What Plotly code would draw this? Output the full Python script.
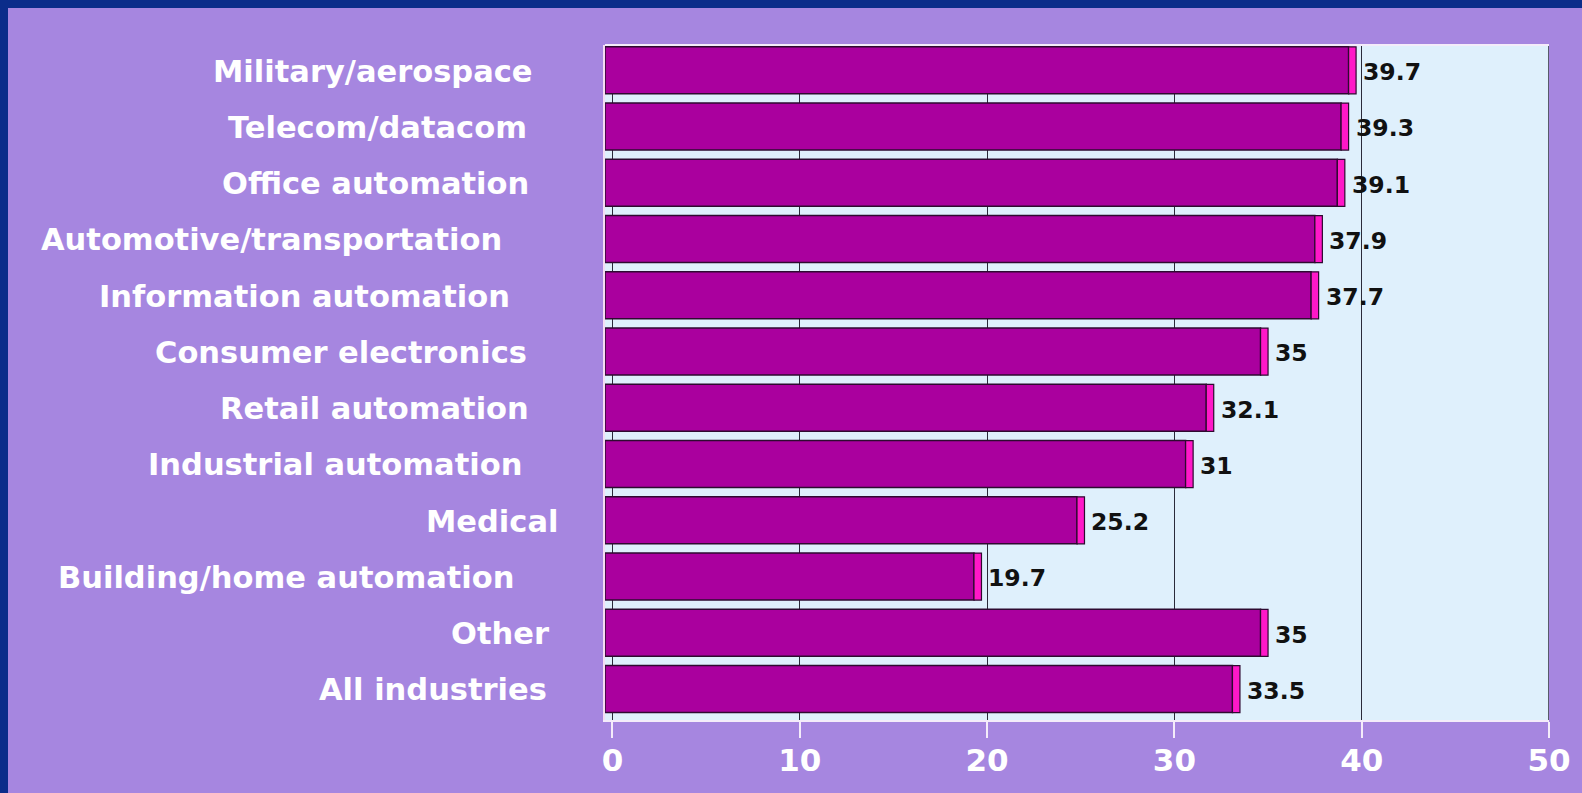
import plotly.graph_objects as go

categories = ["Military/aerospace", "Telecom/datacom", "Office automation",
              "Automotive/transportation", "Information automation",
              "Consumer electronics", "Retail automation", "Industrial automation",
              "Medical", "Building/home automation", "Other", "All industries"]
values = [39.7, 39.3, 39.1, 37.9, 37.7, 35, 32.1, 31, 25.2, 19.7, 35, 33.5]
value_labels = ["39.7", "39.3", "39.1", "37.9", "37.7", "35", "32.1", "31",
                "25.2", "19.7", "35", "33.5"]
x_ticks = [0, 10, 20, 30, 40, 50]

# layout (pixels)
W, H = 1582, 793
L, R, T, B = 605, 33, 45, 73
PW, PH = W - L - R, H - T - B
label_right_px = [535, 529, 531, 504, 512, 529, 531, 524, 560, 517, 551, 549]

def px_x(px):
    return (px - L) / PW

def px_y(py):
    return (H - B - py) / PH

depth = 0.4  # 3D side-face depth in axis units
BAR_W = 0.835
OFF = -BAR_W / 2 - 0.05

fig = go.Figure()
fig.add_trace(go.Bar(
    y=categories, x=[v for v in values], base=[-depth] * len(values),
    orientation="h", width=BAR_W, offset=OFF,
    marker=dict(color="#AA009E", line=dict(color="#2E0A30", width=1.5)),
    hoverinfo="skip", showlegend=False))
fig.add_trace(go.Bar(
    y=categories, x=[depth] * len(values), base=[v - depth for v in values],
    orientation="h", width=BAR_W, offset=OFF,
    marker=dict(color="#FF18C8", line=dict(color="#2E0A30", width=1.2)),
    hoverinfo="skip", showlegend=False))

annotations = []
for c, v, t in zip(categories, values, value_labels):
    annotations.append(dict(x=v, y=c, xref="x", yref="y", text=t, showarrow=False,
                            xanchor="left", yanchor="middle", xshift=5, yshift=1,
                            font=dict(family="DejaVu Sans", size=23.5, color="#111111",
                                      weight="bold")))
for c, rx in zip(categories, label_right_px):
    annotations.append(dict(x=px_x(rx), y=c, xref="paper", yref="y", text=c,
                            showarrow=False, xanchor="right", yanchor="middle",
                            yshift=2,
                            font=dict(family="DejaVu Sans", size=30.5, color="#FFFFFF",
                                      weight="bold")))

shapes = [
    # dark blue frame (left and top)
    dict(type="rect", xref="paper", yref="paper", x0=px_x(0), x1=px_x(8),
         y0=px_y(H), y1=px_y(0), fillcolor="#0B2C8A", line=dict(width=0), layer="below"),
    dict(type="rect", xref="paper", yref="paper", x0=px_x(0), x1=px_x(W),
         y0=px_y(8), y1=px_y(0), fillcolor="#0B2C8A", line=dict(width=0), layer="below"),
    # right wall line at 50
    dict(type="line", xref="x", yref="paper", x0=50, x1=50, y0=0, y1=1,
         line=dict(color="#2a2a3a", width=1.5)),
    # top light edge
    dict(type="line", xref="paper", yref="paper", x0=0, x1=1, y0=1, y1=1,
         line=dict(color="#F4ECFA", width=2)),
]

fig.update_layout(
    width=W, height=H,
    margin=dict(l=L, r=R, t=T, b=B, pad=0),
    paper_bgcolor="#A686E0",
    plot_bgcolor="#DFF0FC",
    barmode="overlay",
    showlegend=False,
    annotations=annotations,
    shapes=shapes,
    xaxis=dict(range=[-depth, 50], tickvals=x_ticks, ticktext=[str(t) for t in x_ticks],
               showgrid=True, gridcolor="#2a2a3a", gridwidth=1.2, zeroline=False,
               ticks="outside", ticklen=16, tickwidth=2, tickcolor="#F4ECFA",
               ticklabelstandoff=-4, automargin=False,
               tickfont=dict(family="DejaVu Sans", size=31, color="#FFFFFF", weight="bold"),
               showline=True, linecolor="#F4ECFA", linewidth=2, fixedrange=True),
    yaxis=dict(categoryorder="array", categoryarray=categories, autorange="reversed",
               showticklabels=False, ticks="", showgrid=False, zeroline=False,
               automargin=False,
               showline=True, linecolor="#F4DCF4", linewidth=2, fixedrange=True),
)

fig.write_html("out.html")
